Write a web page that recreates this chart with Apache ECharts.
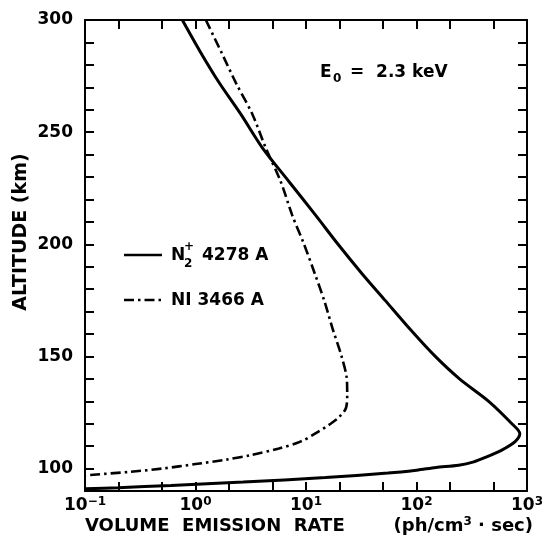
<!DOCTYPE html>
<html><head><meta charset="utf-8">
<script src="https://cdn.jsdelivr.net/npm/echarts@6/dist/echarts.min.js"></script>
<style>html,body{margin:0;padding:0;background:#fff}#c{width:546px;height:536px}</style>
</head><body><div id="c"></div>
<script>
// N2+ 4278 A  (altitude km, volume emission rate ph/cm3/s)
const n2Alt  = [300, 286, 272, 258, 243, 228, 213, 200, 187, 175, 162, 150, 140, 130, 120, 115.6, 112, 108, 105, 103, 101.5, 100.5, 99.3, 98, 96, 94, 92.5, 91.5, 91];
const n2Rate = [0.76, 1.1, 1.64, 2.57, 4.03, 7.0, 12.2, 19.5, 32, 52, 88, 148, 245, 450, 730, 861, 780, 580, 420, 330, 240, 150, 100, 55, 15, 2.7, 0.6, 0.2, 0.1];
// NI 3466 A
const niAlt  = [300, 286, 272, 258, 243, 228, 213, 200, 187, 175, 162, 150, 140, 133, 127, 123, 120, 116, 112, 109, 106, 104, 102, 100, 98.5, 97];
const niRate = [1.24, 1.7, 2.32, 3.27, 4.32, 5.9, 7.5, 9.6, 12, 14.6, 17.5, 21, 23.4, 23.6, 23, 20, 16.7, 12.5, 8.9, 5.7, 3.16, 1.9, 1.0, 0.5, 0.25, 0.1];
const xTickValues  = [0.1,0.2,0.5,1,2,5,10,20,50,100,200,500,1000];
const xLabelValues = [0.1,1,10,100,1000];
const xLabelExp = {'0.1':'−1','1':'0','10':'1','100':'2','1000':'3'};
const yLabelValues = [100,150,200,250,300];

const FONT = 'DejaVu Sans';
const chart = echarts.init(document.getElementById('c'));
const toPairs = (xs, ys) => xs.map((x, i) => [x, ys[i]]);
const axisLine = {show: true, lineStyle: {color: '#000', width: 2}};
const tick = {show: true, inside: true, length: 9, lineStyle: {color: '#000', width: 2}};

chart.setOption({
  animation: false,
  grid: {left: 85, right: 17, top: 20, bottom: 45},
  xAxis: [{
    type: 'log', logBase: 10, min: 0.1, max: 1000, position: 'bottom',
    axisLine, splitLine: {show: false}, minorTick: {show: false},
    axisTick: Object.assign({}, tick, {customValues: xTickValues}),
    axisLabel: {
      customValues: xLabelValues, margin: 5, color: '#000',
      formatter: v => '{b|10}{s|' + xLabelExp[String(+v)] + '}',
      rich: {b: {fontFamily: FONT, fontWeight: 'bold', fontSize: 17, color: '#000'},
             s: {fontFamily: FONT, fontWeight: 'bold', fontSize: 12, color: '#000', verticalAlign: 'top', padding: [0,0,8,0]}}
    }
  }, {
    type: 'log', logBase: 10, min: 0.1, max: 1000, position: 'top',
    axisLine, splitLine: {show: false},
    axisTick: Object.assign({}, tick, {customValues: xTickValues}),
    axisLabel: {show: false}
  }],
  yAxis: [{
    type: 'value', min: 90, max: 300, interval: 10, position: 'left',
    axisLine, splitLine: {show: false}, axisTick: tick,
    axisLabel: {customValues: yLabelValues, margin: 12, color: '#000',
      fontFamily: FONT, fontWeight: 'bold', fontSize: 17}
  }, {
    type: 'value', min: 90, max: 300, interval: 10, position: 'right',
    axisLine, splitLine: {show: false}, axisTick: tick, axisLabel: {show: false}
  }],
  series: [{
    name: 'N2+ 4278 A', type: 'line', data: toPairs(n2Rate, n2Alt),
    symbol: 'none', smooth: 0.3, clip: true,
    lineStyle: {color: '#000', width: 3}
  }, {
    name: 'NI 3466 A', type: 'line', data: toPairs(niRate, niAlt),
    symbol: 'none', smooth: 0.3, clip: true,
    lineStyle: {color: '#000', width: 2.6, type: [10, 4, 2.5, 4]}
  }],
  graphic: [
    {type: 'text', x: 21, y: 232, rotation: Math.PI/2,
     style: {text: 'ALTITUDE (km)', font: 'bold 19px ' + FONT, fill: '#000', align: 'center', verticalAlign: 'middle'}},
    {type: 'text', x: 85, y: 526,
     style: {text: 'VOLUME  EMISSION  RATE', font: 'bold 18px ' + FONT, fill: '#000', align: 'left', verticalAlign: 'middle'}},
    {type: 'text', x: 533, y: 526,
     style: {text: '(ph/cm{s|3} · sec)', font: 'bold 18px ' + FONT, fill: '#000', align: 'right', verticalAlign: 'middle',
       rich: {s: {font: 'bold 12px ' + FONT, fill: '#000', verticalAlign: 'top', padding: [0,0,8,0]}}}},
    {type: 'text', x: 320, y: 73,
     style: {text: 'E', font: 'bold 17px ' + FONT, fill: '#000', verticalAlign: 'middle'}},
    {type: 'text', x: 333, y: 79,
     style: {text: '0', font: 'bold 12px ' + FONT, fill: '#000', verticalAlign: 'middle'}},
    {type: 'text', x: 350, y: 73,
     style: {text: '=  2.3 keV', font: 'bold 17px ' + FONT, fill: '#000', verticalAlign: 'middle'}},
    {type: 'line', shape: {x1: 124, y1: 255, x2: 162, y2: 255}, style: {stroke: '#000', lineWidth: 2.6}},
    {type: 'text', x: 171, y: 256,
     style: {text: 'N', font: 'bold 17px ' + FONT, fill: '#000', verticalAlign: 'middle'}},
    {type: 'text', x: 184, y: 247,
     style: {text: '+', font: 'bold 12px ' + FONT, fill: '#000', verticalAlign: 'middle'}},
    {type: 'text', x: 184, y: 264,
     style: {text: '2', font: 'bold 12px ' + FONT, fill: '#000', verticalAlign: 'middle'}},
    {type: 'text', x: 202, y: 256,
     style: {text: '4278 A', font: 'bold 17px ' + FONT, fill: '#000', verticalAlign: 'middle'}},
    {type: 'line', shape: {x1: 124, y1: 300, x2: 162, y2: 300}, style: {stroke: '#000', lineWidth: 2.6, lineDash: [10, 4, 2.5, 4]}},
    {type: 'text', x: 171, y: 301,
     style: {text: 'NI 3466 A', font: 'bold 17px ' + FONT, fill: '#000', verticalAlign: 'middle'}}
  ]
});
</script></body></html>
